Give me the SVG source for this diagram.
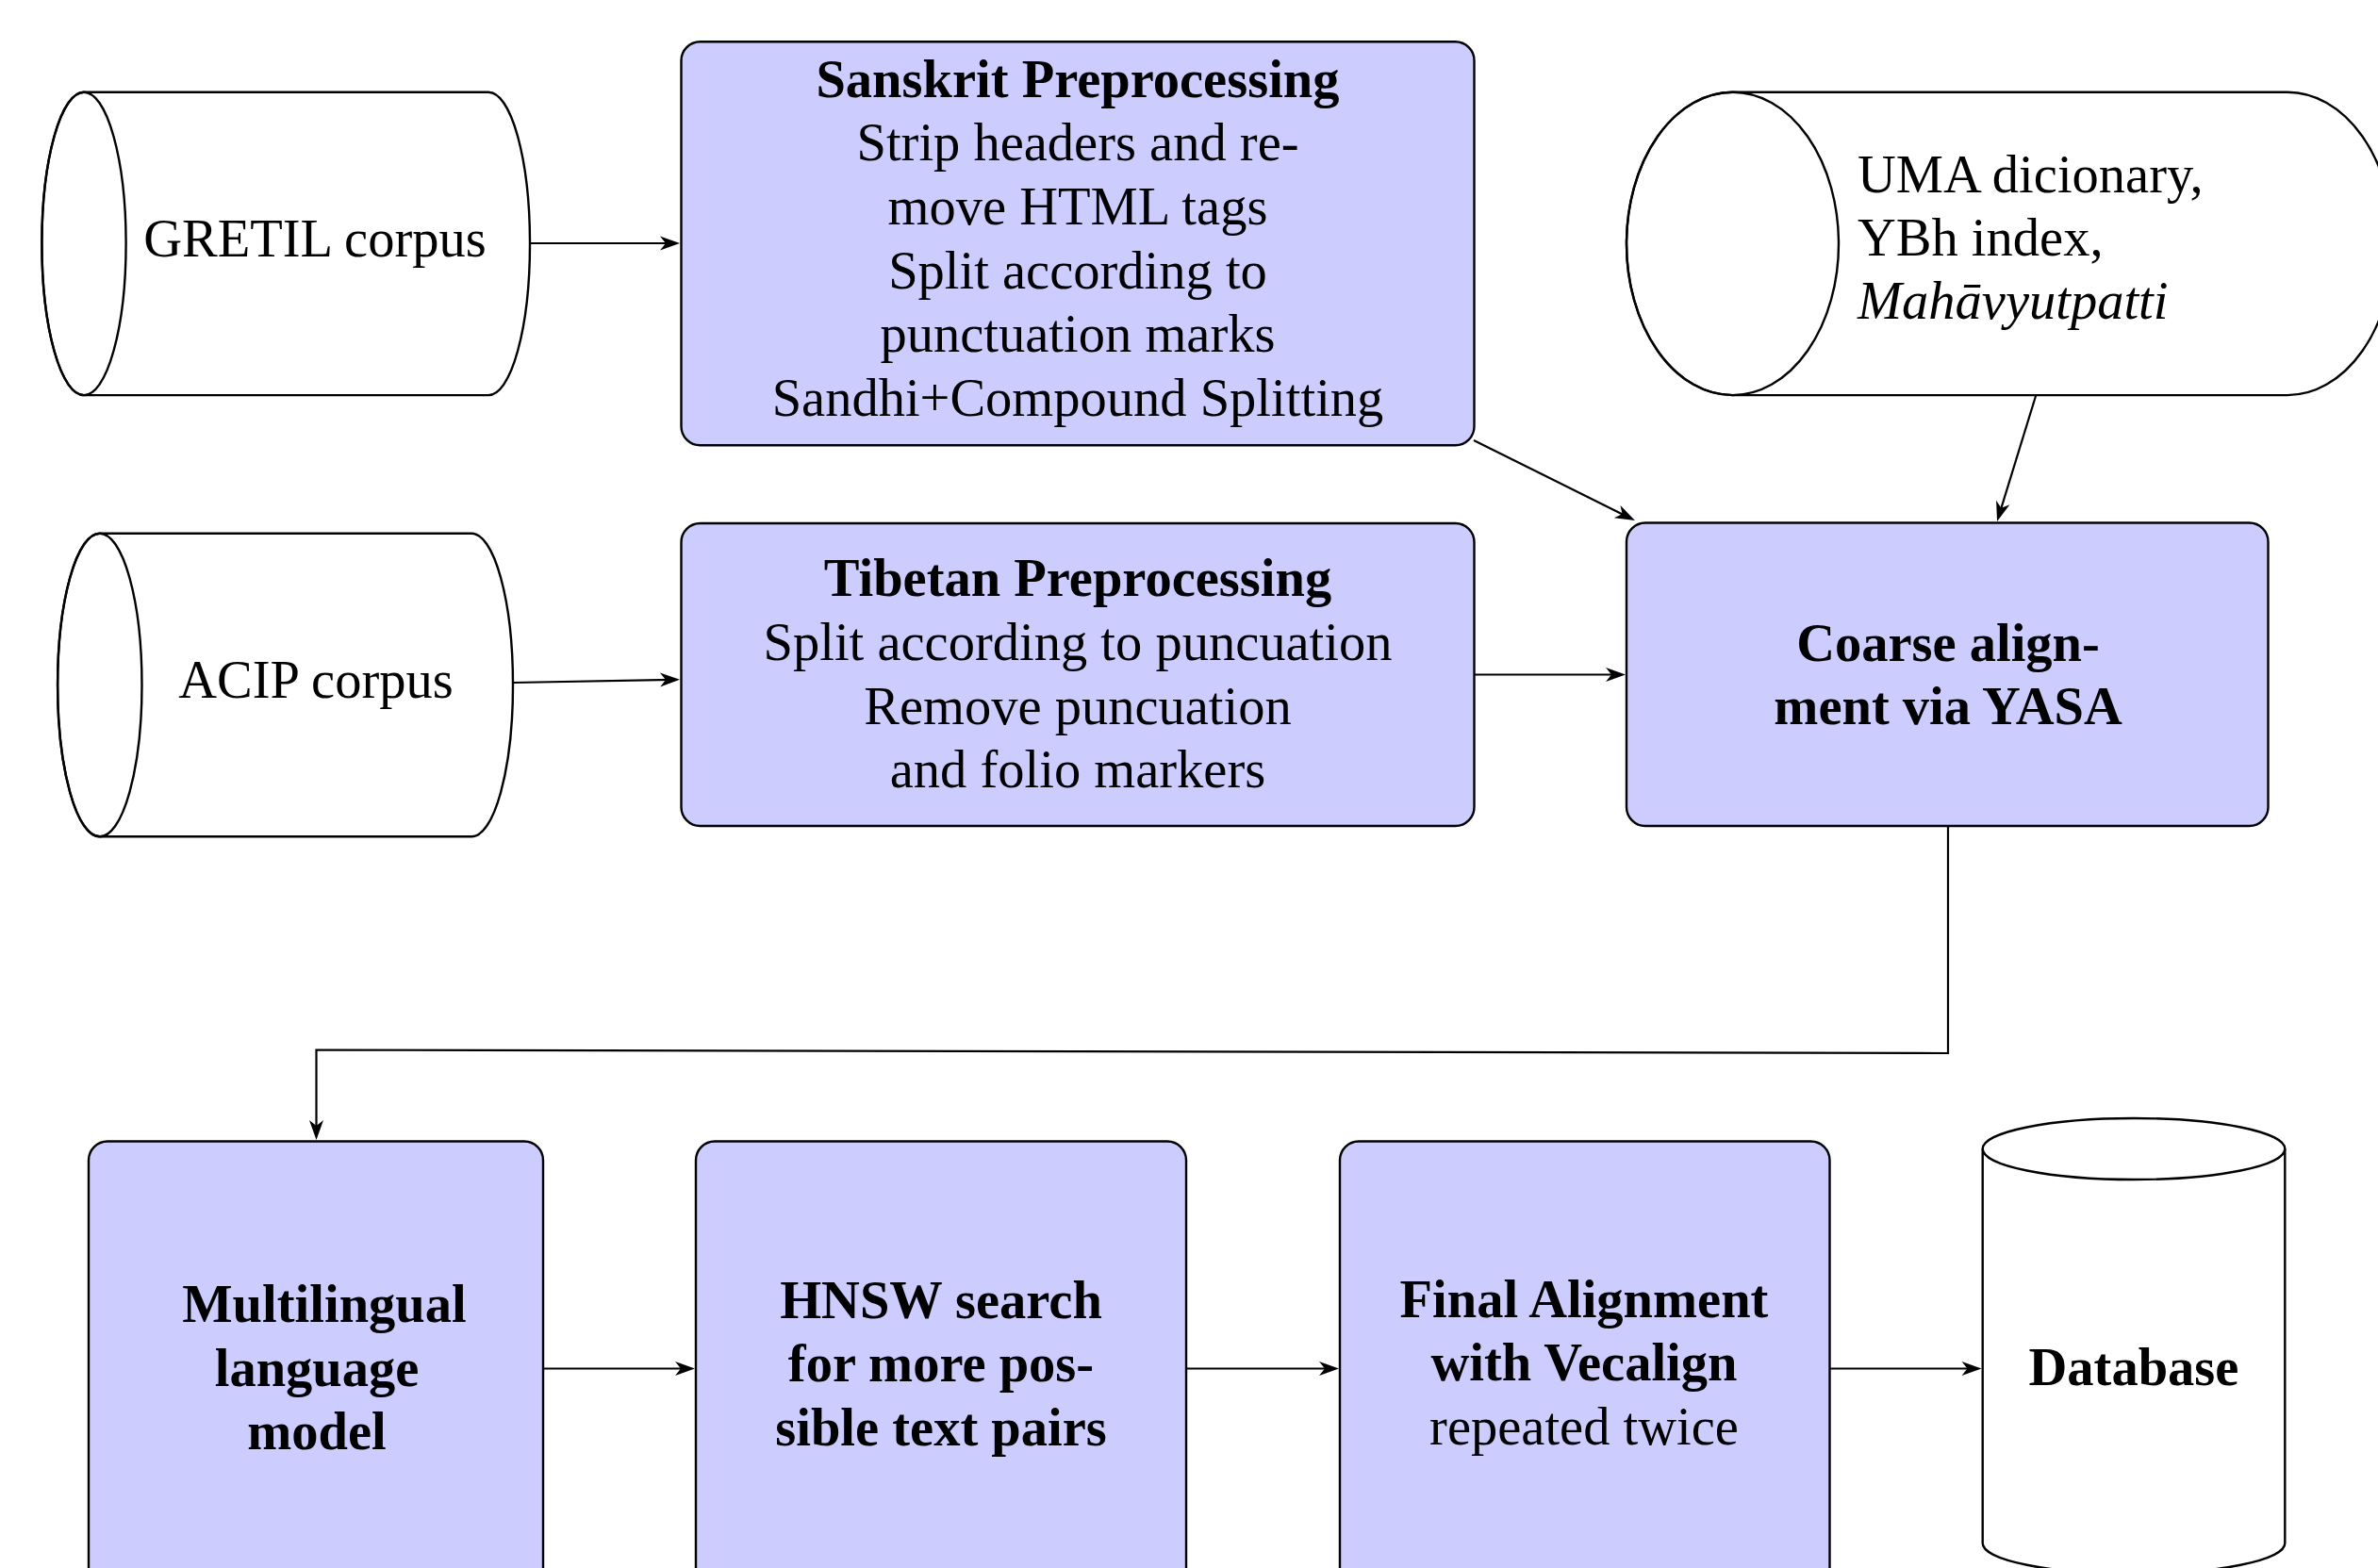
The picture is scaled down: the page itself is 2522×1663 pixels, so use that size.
<svg xmlns="http://www.w3.org/2000/svg" width="2522" height="1663" viewBox="0 0 2522 1663">
<defs>
<style>
.box{fill:#CCCCFF;stroke:#000;stroke-width:2.4}
.cyl{fill:#fff;stroke:#000;stroke-width:2.4}
.cylf{fill:none;stroke:#000;stroke-width:2.4}
.edge{fill:none;stroke:#000;stroke-width:2.2;marker-end:url(#arr)}
text{font-family:"Liberation Serif","Times New Roman",serif;font-size:56.5px;fill:#000}
.c{text-anchor:middle}
.b{font-weight:bold}
.i{font-style:italic}
</style>
<marker id="arr" markerUnits="userSpaceOnUse" markerWidth="40" markerHeight="40" viewBox="-20 -10 40 20" refX="0" refY="0" orient="auto" overflow="visible">
<path d="M8,0 L-13,-7.5 L-7,0 L-13,7.5 Z" fill="#000"/>
</marker>
</defs>
<rect width="2522" height="1663" fill="#fff"/>

<g id="connectors">
<path class="edge" d="M562,258 L713,258"/>
<path class="edge" d="M544,724 L713,720.8"/>
<path class="edge" d="M1563,467 L1726.8,548.4"/>
<path class="edge" d="M2159,420 L2120.4,545.4"/>
<path class="edge" d="M1564,715.5 L1716,715.5"/>
<path class="edge" d="M2066,876 L2066,1117 L335.5,1113.5 L335.5,1201"/>
<path class="edge" d="M576,1451.5 L729,1451.5"/>
<path class="edge" d="M1258,1451.5 L1412,1451.5"/>
<path class="edge" d="M1940,1451.5 L2093.5,1451.5"/>
</g>

<g id="gretil">
<path class="cyl" d="M89,97.7 H518 A44 160.7 0 0 1 518 419.1 H89 A44.6 160.7 0 0 1 89 97.7 Z"/>
<ellipse class="cylf" cx="89" cy="258.4" rx="44.6" ry="160.7"/>
<text class="c" x="334" y="272">GRETIL corpus</text>
</g>

<g id="acip">
<path class="cyl" d="M105.8,565.7 H500 A44 160.8 0 0 1 500 887.3 H105.8 A44.7 160.8 0 0 1 105.8 565.7 Z"/>
<ellipse class="cylf" cx="105.8" cy="726.5" rx="44.7" ry="160.8"/>
<text class="c" x="335" y="740">ACIP corpus</text>
</g>

<g id="uma">
<path class="cyl" d="M1837.5,97.7 H2426 A112.5 160.7 0 0 1 2426 419.1 H1837.5 A112.5 160.7 0 0 1 1837.5 97.7 Z"/>
<ellipse class="cylf" cx="1837.5" cy="258.4" rx="112.5" ry="160.7"/>
<text x="1970" y="204">UMA dicionary,</text>
<text x="1970" y="271">YBh index,</text>
<text class="i" x="1970" y="338">Mahāvyutpatti</text>
</g>

<g id="sanskrit">
<rect class="box" x="722.5" y="44.3" width="841" height="428" rx="20" ry="20"/>
<text class="c b" x="1143" y="102.5">Sanskrit Preprocessing</text>
<text class="c" x="1143" y="170.2">Strip headers and re-</text>
<text class="c" x="1143" y="237.9">move HTML tags</text>
<text class="c" x="1143" y="305.6">Split according to</text>
<text class="c" x="1143" y="373.3">punctuation marks</text>
<text class="c" x="1143" y="441">Sandhi+Compound Splitting</text>
</g>

<g id="tibetan">
<rect class="box" x="722.5" y="555" width="841" height="321" rx="20" ry="20"/>
<text class="c b" x="1143" y="632">Tibetan Preprocessing</text>
<text class="c" x="1143" y="700">Split according to puncuation</text>
<text class="c" x="1143" y="767.5">Remove puncuation</text>
<text class="c" x="1143" y="835">and folio markers</text>
</g>

<g id="coarse">
<rect class="box" x="1725" y="554.5" width="680.5" height="321.5" rx="20" ry="20"/>
<text class="c b" x="2066" y="701">Coarse align-</text>
<text class="c b" x="2066" y="768">ment via YASA</text>
</g>

<g id="multilingual">
<rect class="box" x="94" y="1210.5" width="482" height="520" rx="20" ry="20"/>
<text class="c b" x="344" y="1402">Multilingual</text>
<text class="c b" x="336" y="1469.5">language</text>
<text class="c b" x="336" y="1537">model</text>
</g>

<g id="hnsw">
<rect class="box" x="738" y="1210.5" width="520" height="520" rx="20" ry="20"/>
<text class="c b" x="998" y="1397.5">HNSW search</text>
<text class="c b" x="998" y="1465">for more pos-</text>
<text class="c b" x="998" y="1532.5">sible text pairs</text>
</g>

<g id="final">
<rect class="box" x="1421" y="1210.5" width="519.5" height="520" rx="20" ry="20"/>
<text class="c b" x="1680" y="1396.5">Final Alignment</text>
<text class="c b" x="1680" y="1464">with Vecalign</text>
<text class="c" x="1680" y="1531.5">repeated twice</text>
</g>

<g id="database">
<path class="cyl" d="M2102.7,1218.5 V1636.8 A160.3 32.5 0 0 0 2423.3 1636.8 V1218.5 A160.3 32.5 0 0 0 2102.7 1218.5 Z"/>
<path class="cylf" d="M2102.7,1218.5 A160.3 32.5 0 0 0 2423.3 1218.5"/>
<text class="c b" x="2263" y="1469">Database</text>
</g>
</svg>
